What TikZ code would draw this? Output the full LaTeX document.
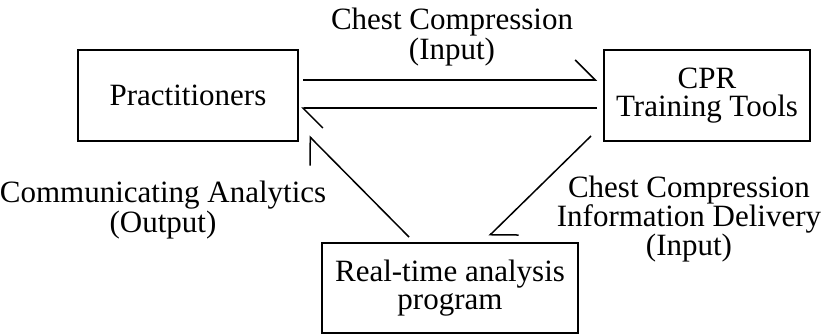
\documentclass[tikz,border=0pt]{standalone}
\usepackage{fontspec}
\setmainfont{Liberation Serif}
\usetikzlibrary{arrows.meta,calc,positioning}
\tikzset
{
    blockbox/.style = {rectangle, draw=black, line width=2pt, align=center, inner sep=0pt},
    flowlabel/.style = {align=center, inner sep=0pt},
    flowline/.style = {line width=1.5pt, -{Straight Barb[harpoon, length=20pt, width=40pt]}}
}

\begin{document}
\begin{tikzpicture}[x=1pt, y=-1pt, font=\fontsize{31}{28}\selectfont]
\useasboundingbox (0,0) rectangle (827,335);
% the three blocks
\node[blockbox, minimum width=220pt, minimum height=91pt] (prac) at (188,95.5) {Practitioners};
\node[blockbox, minimum width=206pt, minimum height=91pt] (cpr) at (707,95.5) {CPR\\Training Tools};
\node[blockbox, minimum width=256pt, minimum height=90pt] (prog) at (450,288) {Real-time analysis\\program};

% labels
\node[flowlabel] (lblin) at (452,37) {Chest Compression\\(Input)};
\node[flowlabel] (lblout) at (163,210) {Communicating Analytics\\(Output)};
\node[flowlabel] (lbldel) at (689,219) {Chest Compression\\Information Delivery\\(Input)};

% connectors
\draw[flowline] ($(prac.east)+(4,-15.5)$) -- ($(cpr.west)+(-6,-15.5)$);
\draw[flowline] ($(cpr.west)+(-6,12.5)$) -- ($(prac.east)+(2,12.5)$);
\draw[flowline] ($(prog.north west)+(88,-5)$) -- ($(prac.south east)+(10,-6)$);
\draw[flowline] ($(cpr.south west)+(-12,-6)$) -- ($(prog.north west)+(168,-6)$);
\end{tikzpicture}
\end{document}
